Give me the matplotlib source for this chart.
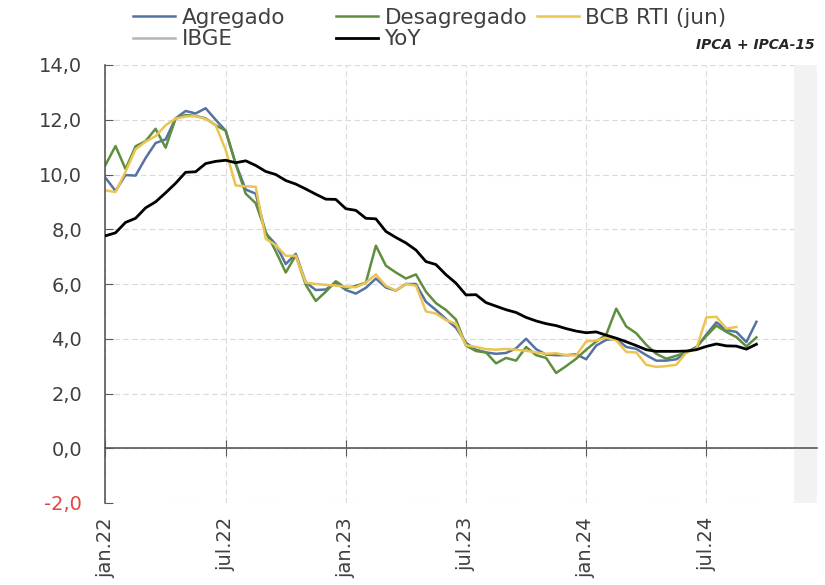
import matplotlib
matplotlib.use("Agg")
import matplotlib.pyplot as plt
from matplotlib.lines import Line2D
import numpy as np

# Inflation measures, 12m, IPCA and IPCA-15 releases interleaved (two points per month, from jan.22)
agregado = [
    9.88, 9.40, 9.98, 9.96, 10.60, 11.15, 11.28, 12.05, 12.32, 12.23,
    12.42, 12.00, 11.60, 10.40, 9.45, 9.30, 7.85, 7.45, 6.73, 7.10,
    6.06, 5.78, 5.80, 6.05, 5.78, 5.65, 5.86, 6.20, 5.87, 5.76,
    6.00, 6.00, 5.35, 5.05, 4.72, 4.40, 3.85, 3.60, 3.50, 3.45,
    3.48, 3.65, 4.00, 3.62, 3.42, 3.40, 3.40, 3.43, 3.25, 3.75,
    3.96, 4.00, 3.70, 3.63, 3.40, 3.20, 3.20, 3.25, 3.50, 3.68,
    4.15, 4.60, 4.32, 4.25, 3.88, 4.62,
]
desagregado = [
    10.35, 11.04, 10.20, 11.03, 11.22, 11.67, 10.98, 12.04, 12.17, 12.14,
    12.05, 11.80, 11.60, 10.38, 9.30, 8.95, 7.90, 7.20, 6.42, 7.05,
    5.97, 5.38, 5.72, 6.10, 5.85, 5.93, 6.05, 7.40, 6.67, 6.42,
    6.20, 6.35, 5.72, 5.30, 5.05, 4.70, 3.75, 3.55, 3.50, 3.10,
    3.30, 3.20, 3.70, 3.40, 3.30, 2.75, 3.00, 3.27, 3.60, 3.90,
    4.15, 5.10, 4.45, 4.20, 3.78, 3.45, 3.27, 3.38, 3.50, 3.70,
    4.10, 4.48, 4.25, 4.06, 3.72, 4.05,
]
bcb_rti = [
    9.42, 9.36, 10.10, 10.92, 11.20, 11.40, 11.80, 12.04, 12.12, 12.13,
    12.03, 11.80, 10.90, 9.60, 9.57, 9.55, 7.65, 7.42, 7.03, 7.03,
    6.05, 6.00, 5.97, 5.94, 5.90, 5.88, 6.05, 6.35, 5.93, 5.76,
    6.00, 5.94, 5.00, 4.92, 4.68, 4.55, 3.76, 3.70, 3.62, 3.60,
    3.63, 3.60, 3.56, 3.50, 3.45, 3.47, 3.40, 3.39, 3.90, 3.94,
    4.04, 3.94, 3.52, 3.50, 3.05, 2.97, 3.00, 3.05, 3.50, 3.63,
    4.78, 4.80, 4.37, 4.43,
]
yoy = [
    7.76, 7.87, 8.25, 8.40, 8.78, 9.00, 9.33, 9.68, 10.08, 10.10,
    10.40, 10.48, 10.52, 10.43, 10.50, 10.33, 10.11, 10.00, 9.78, 9.65,
    9.47, 9.28, 9.10, 9.09, 8.75, 8.69, 8.40, 8.38, 7.92, 7.70,
    7.50, 7.24, 6.82, 6.71, 6.34, 6.03, 5.60, 5.61, 5.32, 5.19,
    5.06, 4.96, 4.78, 4.65, 4.55, 4.48, 4.37, 4.28, 4.22, 4.25,
    4.13, 4.02, 3.89, 3.75, 3.60, 3.54, 3.54, 3.54, 3.55, 3.60,
    3.72, 3.81, 3.74, 3.73, 3.62, 3.80,
]

tick_months = [0, 6, 12, 18, 24, 30]
tick_labels = ["jan.22", "jul.22", "jan.23", "jul.23", "jan.24", "jul.24"]
y_ticks = [-2, 0, 2, 4, 6, 8, 10, 12, 14]

x_end = 35.5
band_start = 34.4

plt.rcParams["font.family"] = ["DejaVu Sans"]
text_color = "#404040"

fig = plt.figure(figsize=(8.25, 5.85), dpi=100)
ax = fig.add_axes([105.5 / 825, 1 - 503 / 585, 711 / 825, 438 / 585])


def months(series):
    return np.arange(len(series)) / 2


ax.axvspan(band_start, x_end, color="#f2f2f2", zorder=0.6, lw=0)
ax.plot(months(agregado), agregado, color="#5572a3", lw=1.8, label="Agregado", zorder=2)
ax.plot(months(desagregado), desagregado, color="#5f8f3e", lw=1.8, label="Desagregado", zorder=2.1)
ax.plot(months(bcb_rti), bcb_rti, color="#ecc452", lw=1.8, label="BCB RTI (jun)", zorder=2.2)
ibge_line = Line2D([], [], color="#b4b4b4", lw=1.8, label="IBGE")
ax.plot(months(yoy), yoy, color="black", lw=2.0, label="YoY", zorder=3)

ax.set_xlim(0, x_end)
ax.set_ylim(-2, 14)

# y axis
ax.set_yticks(y_ticks, [f"{v:.1f}".replace(".", ",") for v in y_ticks])
ax.tick_params(axis="y", direction="in", length=6, pad=17, labelsize=14,
               labelcolor=text_color, color="#595959")
for lbl, v in zip(ax.get_yticklabels(), y_ticks):
    if v < 0:
        lbl.set_color("#e0463c")

# x axis line sits at zero, labels stay at the bottom
ax.spines["bottom"].set_position(("data", 0))
ax.set_xticks(tick_months)
ax.tick_params(axis="x", direction="inout", length=11, labelbottom=False, color="#595959")
sec = ax.secondary_xaxis("bottom")
sec.set_xticks(tick_months, tick_labels, rotation=90)
sec.tick_params(length=0, pad=10, labelsize=14, labelcolor=text_color)
sec.spines["bottom"].set_visible(False)

for side in ("top", "right"):
    ax.spines[side].set_visible(False)
for side in ("left", "bottom"):
    ax.spines[side].set_color("#595959")
    ax.spines[side].set_linewidth(1.2)

ax.set_axisbelow(True)
ax.grid(color="#dadada", linestyle=(0, (5, 3)), linewidth=0.8)

# legend laid out in three fixed-width columns
handles = {h.get_label(): h for h in ax.get_lines()}
handles["IBGE"] = ibge_line
columns = [["Agregado", "IBGE"], ["Desagregado", "YoY"], ["BCB RTI (jun)"]]
col_x = [133, 336, 537]
for names, x in zip(columns, col_x):
    fig.legend([handles[n] for n in names], names, loc="upper left",
               bbox_to_anchor=(x / 825, 1 - 8 / 585), frameon=False,
               fontsize=15.5, handlelength=1.95, handletextpad=0.3,
               borderpad=0, borderaxespad=0, labelspacing=0.05,
               labelcolor=text_color)

fig.text(815 / 825, 1 - 45 / 585, "IPCA + IPCA-15", ha="right", va="center",
         fontsize=10, fontweight="bold", fontstyle="italic", color="#262626")

fig.savefig("out.png", dpi=100)
plt.close(fig)
